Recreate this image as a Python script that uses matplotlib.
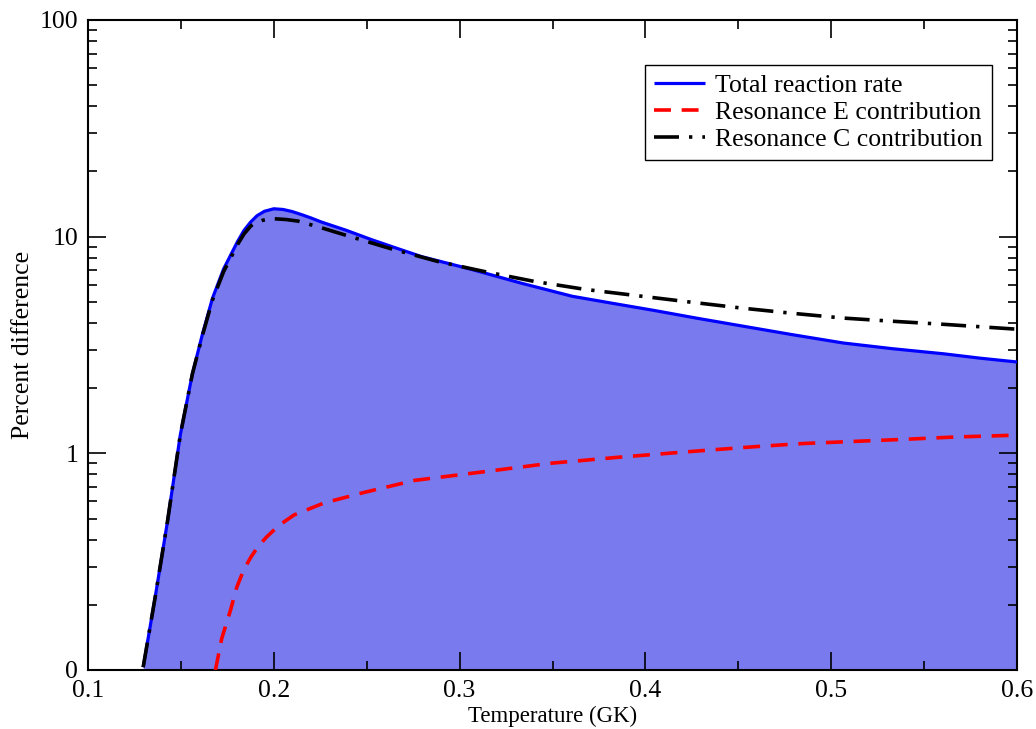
import matplotlib
matplotlib.use("Agg")
import matplotlib.pyplot as plt
from matplotlib.ticker import FixedLocator, FixedFormatter, NullFormatter

plt.rcParams['font.family'] = ['Liberation Serif', 'DejaVu Serif']
plt.rcParams['lines.scale_dashes'] = False

# ---- data ----
t_total = [0.1297, 0.1362, 0.1427, 0.1497, 0.1562, 0.1616, 0.1670, 0.1730, 0.1805,
           0.1840, 0.1876, 0.1910, 0.1950, 0.2000, 0.2050, 0.2100, 0.2154, 0.2200,
           0.2254, 0.2390, 0.2524, 0.2660, 0.2795, 0.3065, 0.3335, 0.3605, 0.3820,
           0.4038, 0.4280, 0.4520, 0.4790, 0.5065, 0.5330, 0.5605, 0.5800, 0.6000]
v_total = [0.103, 0.218, 0.48, 1.22, 2.33, 3.55, 5.2, 7.1, 9.5,
           10.7, 11.7, 12.5, 13.1, 13.45, 13.35, 13.05, 12.6, 12.2,
           11.7, 10.7, 9.7, 8.85, 8.09, 7.06, 6.09, 5.31, 4.93,
           4.58, 4.2, 3.87, 3.53, 3.23, 3.04, 2.88, 2.75, 2.64]

t_resC = [0.1297, 0.1362, 0.1427, 0.1497, 0.1562, 0.1616, 0.1670, 0.1730, 0.1805,
          0.1840, 0.1876, 0.1905, 0.1940, 0.1970, 0.2000, 0.2065, 0.2130, 0.2255,
          0.2380, 0.2630, 0.2886, 0.3135, 0.3400, 0.3676, 0.3980, 0.4250, 0.4520,
          0.4790, 0.5065, 0.5330, 0.5605, 0.5800, 0.6000]
v_resC = [0.103, 0.218, 0.48, 1.22, 2.33, 3.5, 5.1, 6.9, 9.2,
          10.3, 11.2, 11.6, 11.9, 12.05, 12.1, 12.0, 11.8, 11.0,
          10.2, 8.8, 7.67, 6.9, 6.22, 5.71, 5.31, 4.98, 4.68,
          4.43, 4.21, 4.07, 3.94, 3.84, 3.74]

t_resE = [0.1686, 0.1720, 0.1768, 0.1800, 0.1838, 0.1875, 0.1914, 0.1960, 0.2022,
          0.2066, 0.2110, 0.2270, 0.2486, 0.2757, 0.3120, 0.3490, 0.3860, 0.4310,
          0.4600, 0.4849, 0.5120, 0.5390, 0.5670, 0.5957, 0.6000]
v_resE = [0.1, 0.14, 0.19, 0.24, 0.29, 0.33, 0.37, 0.41, 0.46,
          0.49, 0.52, 0.59, 0.66, 0.75, 0.82, 0.90, 0.96, 1.03,
          1.075, 1.11, 1.135, 1.16, 1.19, 1.21, 1.22]

x_ticks = [0.1, 0.2, 0.3, 0.4, 0.5, 0.6]
x_ticklabels = ["0.1", "0.2", "0.3", "0.4", "0.5", "0.6"]
y_ticks = [0.1, 1, 10, 100]
y_ticklabels = ["0", "1", "10", "100"]

labels = ["Total reaction rate", "Resonance E contribution", "Resonance C contribution"]

# ---- figure ----
W, H = 1036, 729
FS = 18.5
fig = plt.figure(figsize=(W / 100, H / 100), dpi=100)
ax = fig.add_axes([88 / W, 1 - 670 / H, (1017 - 88) / W, (670 - 20) / H])

ax.set_xscale('linear')
ax.set_yscale('log')
ax.set_xlim(0.1, 0.6)
ax.set_ylim(0.1, 100)

ax.fill_between(t_total, v_total, 0.1, color='#7a7aef', linewidth=0, zorder=1)
l1, = ax.plot(t_total, v_total, color='#0000ff', lw=2.3, zorder=3,
              solid_capstyle='butt', solid_joinstyle='round')
l2, = ax.plot(t_resE, v_resE, color='#ff0000', lw=2.6, zorder=4,
              dashes=(12.2, 7.7), dash_capstyle='butt')
l3, = ax.plot(t_resC, v_resC, color='black', lw=2.6, zorder=5,
              dashes=(18, 7.2, 2.4, 7.2), dash_capstyle='butt')

ax.xaxis.set_major_locator(FixedLocator(x_ticks))
ax.xaxis.set_major_formatter(FixedFormatter(x_ticklabels))
ax.xaxis.set_minor_locator(FixedLocator([0.15, 0.25, 0.35, 0.45, 0.55]))
ax.yaxis.set_major_locator(FixedLocator(y_ticks))
ax.yaxis.set_major_formatter(FixedFormatter(y_ticklabels))
minors = [m * 10.0 ** e for e in (-1, 0, 1) for m in range(2, 10)]
ax.yaxis.set_minor_locator(FixedLocator(minors))
ax.yaxis.set_minor_formatter(NullFormatter())

ax.tick_params(which='both', direction='in', top=True, right=True,
               labelsize=FS, width=1.2, colors='black')
ax.tick_params(which='major', length=13)
ax.tick_params(axis='x', which='major', pad=7)
ax.tick_params(axis='y', which='major', pad=7)
ax.tick_params(which='minor', length=6.5)
for sp in ax.spines.values():
    sp.set_linewidth(1.5)

ax.set_xlabel("Temperature (GK)", fontsize=16.5, labelpad=3)
ax.set_ylabel("Percent difference", fontsize=FS, labelpad=4)

leg = ax.legend([l1, l2, l3], labels, loc='upper right',
                bbox_to_anchor=((992 - 88) / (1017 - 88), (670 - 65) / (670 - 20)),
                fontsize=FS, frameon=True, fancybox=False, framealpha=1,
                edgecolor='black', borderpad=0.35, labelspacing=0.15,
                handlelength=2.0, handletextpad=0.4, borderaxespad=0)
leg.get_frame().set_linewidth(1.0)

fig.savefig("out.png", dpi=100)
